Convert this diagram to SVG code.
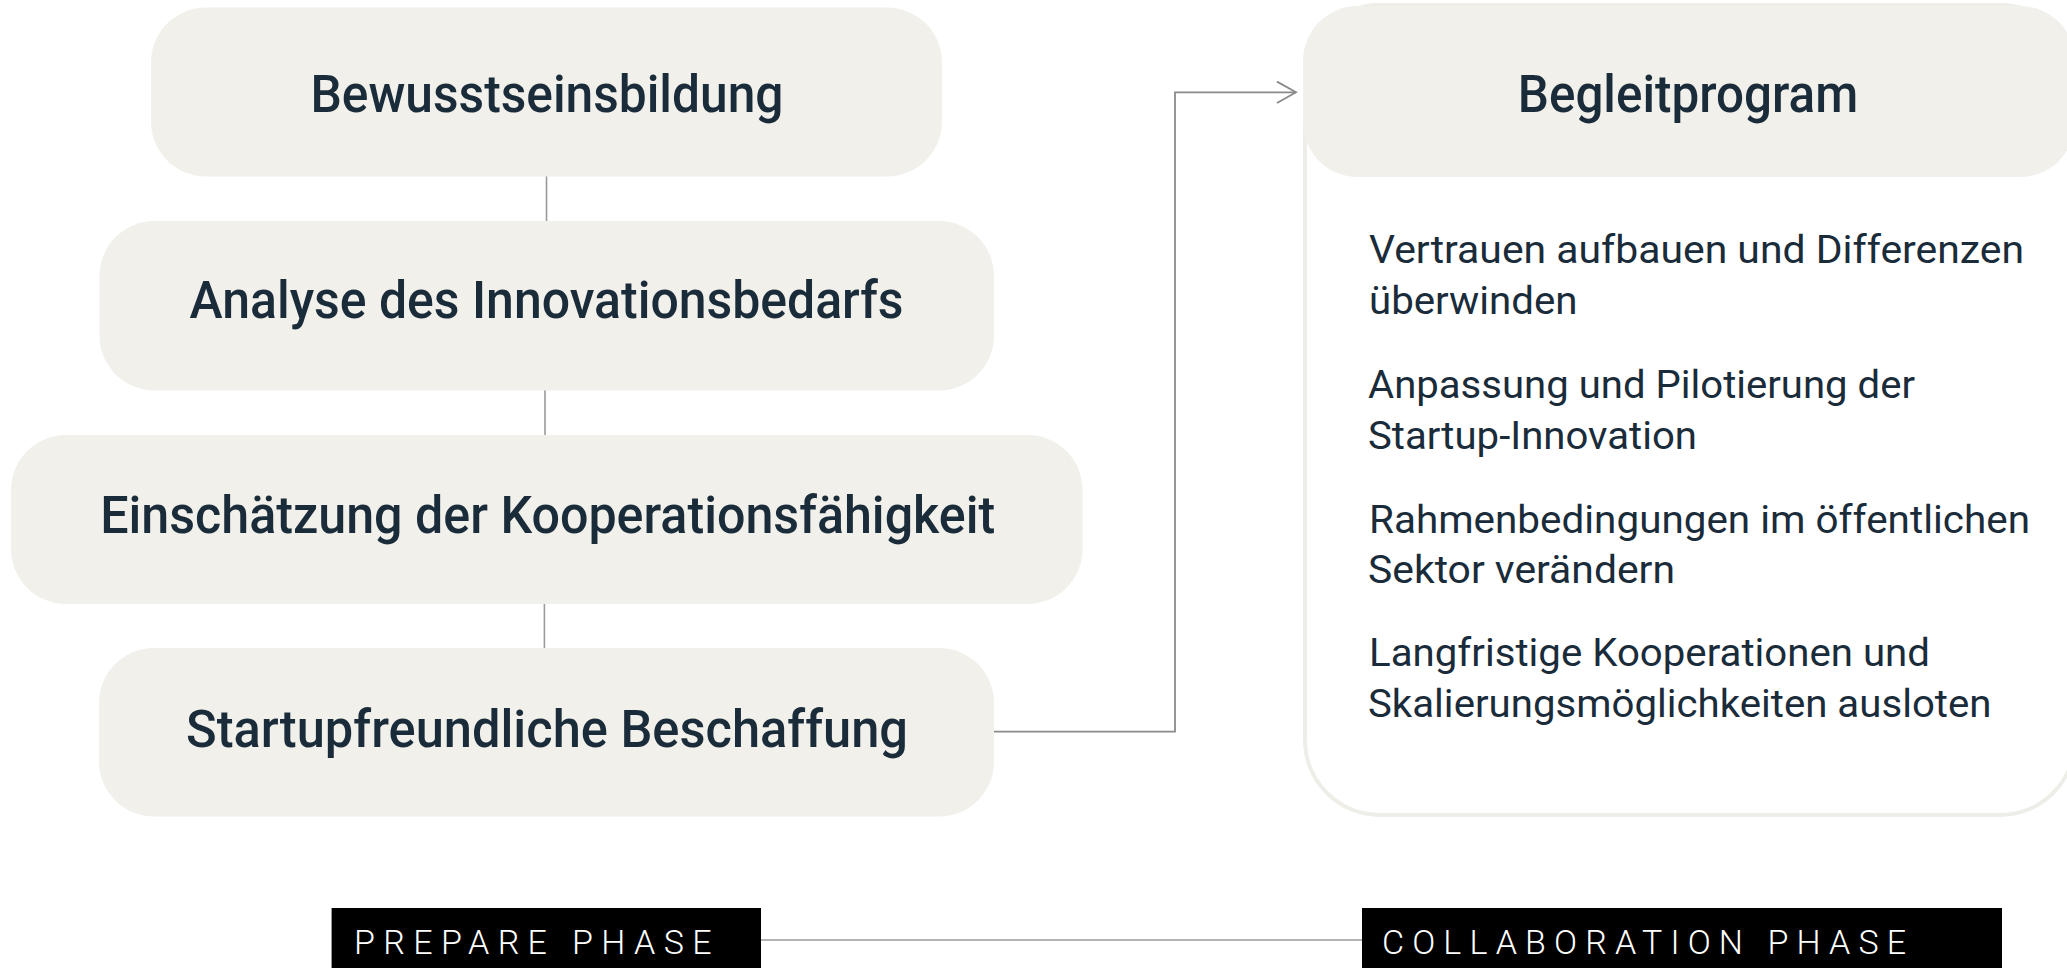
<svg xmlns="http://www.w3.org/2000/svg" width="2067" height="968" viewBox="0 0 2067 968">
<style>
.box{fill:#f1f0eb}
.title{font-family:Roboto,"Liberation Sans",sans-serif;font-weight:500;font-size:51px;fill:#1a2b3a;text-anchor:middle}
.body{font-family:Roboto,"Liberation Sans",sans-serif;font-weight:400;font-size:38px;fill:#1a2b3a}
.phase{font-family:Roboto,"Liberation Sans",sans-serif;font-weight:300;font-size:34px;fill:#ffffff}
.conn{fill:none;stroke:#9a9a9a;stroke-width:1.6}
.arrow{fill:none;stroke:#8a8a8a;stroke-width:1.8}
</style>
<defs>
<marker id="chev" markerUnits="userSpaceOnUse" viewBox="0 0 22 24" refX="20" refY="12" markerWidth="22" markerHeight="24" orient="auto">
<path d="M1,1.3 L20,12 L1,22.7" fill="none" stroke="#8a8a8a" stroke-width="1.8"/>
</marker>
</defs>
<rect width="2067" height="968" fill="#ffffff"/>
<g id="connectors">
<line class="conn" x1="546.5" y1="176" x2="546.5" y2="222"/>
<line class="conn" x1="545" y1="390" x2="545" y2="436"/>
<line class="conn" x1="544.4" y1="603" x2="544.4" y2="649"/>
<path class="arrow" d="M989,731.7 H1175 V92.3 H1296" marker-end="url(#chev)"/>
<line class="conn" x1="761" y1="940" x2="1362" y2="940"/>
</g>
<g id="node-bewusstseinsbildung">
<rect class="box" x="151" y="7.5" width="791" height="169" rx="55"/>
<text class="title" x="547" y="111.7" textLength="473" lengthAdjust="spacingAndGlyphs">Bewusstseinsbildung</text>
</g>
<g id="node-analyse">
<rect class="box" x="99.5" y="221" width="894.5" height="169.5" rx="55"/>
<text class="title" x="546.5" y="318.3" textLength="714" lengthAdjust="spacingAndGlyphs">Analyse des Innovationsbedarfs</text>
</g>
<g id="node-einschaetzung">
<rect class="box" x="11" y="435" width="1071.5" height="169" rx="55"/>
<text class="title" x="547.7" y="533" textLength="895" lengthAdjust="spacingAndGlyphs">Einschätzung der Kooperationsfähigkeit</text>
</g>
<g id="node-beschaffung">
<rect class="box" x="99" y="648" width="895" height="168.5" rx="55"/>
<text class="title" x="547" y="747.3" textLength="722" lengthAdjust="spacingAndGlyphs">Startupfreundliche Beschaffung</text>
</g>
<g id="node-begleitprogram">
<rect x="1305" y="5" width="770" height="810" rx="75" fill="#ffffff" stroke="#eeede7" stroke-width="4"/>
<rect class="box" x="1303" y="6" width="772" height="171" rx="55"/>
<text class="title" x="1688" y="111.7" textLength="340.5" lengthAdjust="spacingAndGlyphs">Begleitprogram</text>
<text class="body" x="1369" y="263.3" textLength="655" lengthAdjust="spacingAndGlyphs">Vertrauen aufbauen und Differenzen</text>
<text class="body" x="1369" y="314" textLength="208.6" lengthAdjust="spacingAndGlyphs">überwinden</text>
<text class="body" x="1368" y="398.3" textLength="547" lengthAdjust="spacingAndGlyphs">Anpassung und Pilotierung der</text>
<text class="body" x="1368" y="449.3" textLength="329" lengthAdjust="spacingAndGlyphs">Startup-Innovation</text>
<text class="body" x="1369" y="532.7" textLength="661" lengthAdjust="spacingAndGlyphs">Rahmenbedingungen im öffentlichen</text>
<text class="body" x="1368" y="583.3" textLength="307" lengthAdjust="spacingAndGlyphs">Sektor verändern</text>
<text class="body" x="1369" y="666" textLength="561" lengthAdjust="spacingAndGlyphs">Langfristige Kooperationen und</text>
<text class="body" x="1368" y="716.7" textLength="623.5" lengthAdjust="spacingAndGlyphs">Skalierungsmöglichkeiten ausloten</text>
</g>
<g id="node-prepare-phase">
<rect x="331.6" y="908" width="429.4" height="62" fill="#000000"/>
<text class="phase" x="354" y="954" textLength="357.5" lengthAdjust="spacing">PREPARE PHASE</text>
</g>
<g id="node-collaboration-phase">
<rect x="1362" y="908" width="640" height="62" fill="#000000"/>
<text class="phase" x="1382" y="954" textLength="524" lengthAdjust="spacing">COLLABORATION PHASE</text>
</g>
</svg>
